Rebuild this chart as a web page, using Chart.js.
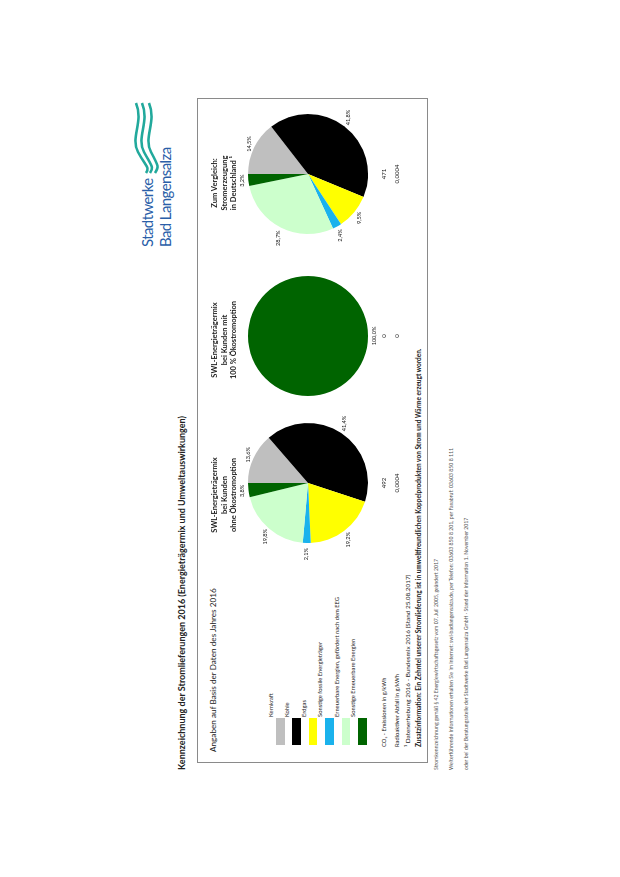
<!DOCTYPE html>
<html><head><meta charset="utf-8">
<script src="https://cdn.jsdelivr.net/npm/chart.js@4.4.1/dist/chart.umd.min.js"></script>
<style>
html,body{margin:0;padding:0;background:#fff;width:620px;height:877px;overflow:hidden;}
#page{position:absolute;left:0;top:0;width:877px;height:620px;transform-origin:0 0;transform:translateY(877px) rotate(-90deg);font-family:Lato,"Open Sans",sans-serif;color:#222;}
.t{position:absolute;white-space:nowrap;line-height:1;}
canvas{position:absolute;}
</style></head><body><div id="page"></div>
<script>
// ---- data ----
const categories = ["Kernkraft","Kohle","Erdgas","Sonstige fossile Energieträger","Erneuerbare Energien, gefördert nach dem EEG","Sonstige Erneuerbare Energien"];
const sliceColors = ["#bfbfbf","#000000","#ffff00","#1ab2ec","#ccffcc","#006400"];
const pieTitles = [["SWL-Energieträgermix","bei Kunden","ohne Ökostromoption"],["SWL-Energieträgermix","bei Kunden mit","100 % Ökostromoption"],["Zum Vergleich:","Stromerzeugung","in Deutschland ¹"]];
const swlMix = [13.6,41.4,19.2,2.1,19.8,3.8];
const oekoMix = [0,0,0,0,0,100];
const deMix = [14.5,41.8,9.5,2.4,28.7,3.2];
const co2Values = ["492","0","471"];
const wasteValues = ["0,0004","0","0,0004"];
const rowLabels = ["CO\u2082 - Emissionen in g/kWh","Radioaktiver Abfall in g/kWh"];

const page = document.getElementById('page');
function addText(str,u,v,size,opts){
  opts=opts||{};
  const d=document.createElement('div');d.className='t';d.textContent=str;
  d.style.fontSize=size+'px';
  d.style.top=(v-size/2)+'px';
  if(opts.center){d.style.left=(u-150)+'px';d.style.width='300px';d.style.textAlign='center';}
  else d.style.left=u+'px';
  if(opts.bold)d.style.fontWeight='700';
  if(opts.color)d.style.color=opts.color;
  if(opts.ls)d.style.letterSpacing=opts.ls;
  page.appendChild(d);return d;
}
// title
addText("Kennzeichnung der Stromlieferungen 2016 (Energieträgermix und Umweltauswirkungen)",107,181,9,{bold:true});
// logo
addText("Stadtwerke",630,147,15,{color:"#2a5ea8",ls:"-0.6px"});
addText("Bad Langensalza",630,165,15,{color:"#2a5ea8",ls:"-0.6px"});
const svgNS="http://www.w3.org/2000/svg";
const svg=document.createElementNS(svgNS,'svg');
svg.setAttribute('width','80');svg.setAttribute('height','40');
svg.style.position='absolute';svg.style.left='700px';svg.style.top='128px';
[[8,18],[14,22],[21,27]].forEach(([a,b])=>{
  const p=document.createElementNS(svgNS,'path');
  p.setAttribute('d',`M 74 ${a} C 55 ${a+8}, 40 ${a-6}, 25 ${a+2} S 10 ${b+4}, 4 ${b}`);
  p.setAttribute('fill','none');p.setAttribute('stroke','#22a99c');p.setAttribute('stroke-width','2.6');
  svg.appendChild(p);
});
page.appendChild(svg);
// box
const box=document.createElement('div');
box.style.cssText='position:absolute;left:114px;top:197px;width:665px;height:231px;border:1px solid #8a8a8a;box-sizing:border-box;';
page.appendChild(box);
addText("Angaben auf Basis der Daten des Jahres 2016",125,213,8.2);
// legend
const legendTops=[276,292,308.5,325,341.5,358];
categories.forEach((c,i)=>{
  const s=document.createElement('div');
  s.style.cssText=`position:absolute;left:132px;top:${legendTops[i]}px;width:27px;height:8.5px;background:${sliceColors[i]};`;
  page.appendChild(s);
  addText(c,160,legendTops[i]-5,5.8);
});
// rows
const rowV=[384,396.5];
addText(rowLabels[0],130,rowV[0],5.8);
addText(rowLabels[1],130,rowV[1],5.8);
addText("¹ Datenerhebung 2016 - Bundesmix 2016 (Stand 25.08.2017)",130,408.5,6.4);
addText("Zusatzinformation: Ein Zehntel unserer Stromlieferung ist in umweltfreundlichen Koppelprodukten von Strom und Wärme erzeugt worden.",130,419.5,6.5,{bold:true});
// footer
addText("Stromkennzeichnung gemäß § 42 Energiewirtschaftsgesetz vom 07. Juli 2005, geändert 2017",107,437,5.2,{color:"#555"});
addText("Weiterführende Informationen erhalten Sie im Internet: swl-badlangensalza.de, per Telefon: 03603 850 8 201, per Faxabruf: 03603 850 8 111",107,452,5.2,{color:"#555"});
addText("oder bei der Beratungsstelle der Stadtwerke Bad Langensalza GmbH · Stand der Information 1. November 2017",107,467,5.2,{color:"#555"});

// pies
const pieCentersU=[394,541,703];
const titleCentersU=[382,537,694];
const pieV=308;
const mixes=[swlMix,oekoMix,deMix];
function fmt(v){return v.toFixed(1).replace('.',',')+'%';}
const pctLabels={
  id:'pctLabels',
  afterDatasetsDraw(chart){
    const ctx=chart.ctx,meta=chart.getDatasetMeta(0),data=chart.data.datasets[0].data;
    ctx.save();ctx.font='5.6px Lato, sans-serif';ctx.fillStyle='#222';ctx.textAlign='center';ctx.textBaseline='middle';
    meta.data.forEach((arc,i)=>{
      if(!data[i])return;
      const p=arc.getProps(['x','y','startAngle','endAngle','outerRadius'],true);
      const m=(p.startAngle+p.endAngle)/2;
      const txt=fmt(data[i]);const w=ctx.measureText(txt).width;
      const r=p.outerRadius+5;
      const x=p.x+Math.cos(m)*(r+Math.abs(Math.cos(m))*w/2);
      const y=p.y+Math.sin(m)*(r+1);
      ctx.fillText(txt,x,y);
    });
    ctx.restore();
  }
};
mixes.forEach((mix,k)=>{
  const cv=document.createElement('canvas');
  cv.width=180;cv.height=180;cv.style.width='180px';cv.style.height='180px';
  cv.style.left=(pieCentersU[k]-90)+'px';cv.style.top=(pieV-90)+'px';
  page.appendChild(cv);
  new Chart(cv,{type:'pie',
    data:{labels:categories,datasets:[{data:mix,backgroundColor:sliceColors,borderWidth:0}]},
    options:{responsive:false,animation:false,layout:{padding:30},
      plugins:{legend:{display:false},tooltip:{enabled:false}}},
    plugins:[pctLabels]});
  pieTitles[k].forEach((line,j)=>addText(line,titleCentersU[k],[215,224.5,234][j],7.5,{bold:true,center:true}));
  addText(co2Values[k],pieCentersU[k],rowV[0],6,{center:true});
  addText(wasteValues[k],pieCentersU[k],rowV[1],6,{center:true});
});
</script></body></html>
